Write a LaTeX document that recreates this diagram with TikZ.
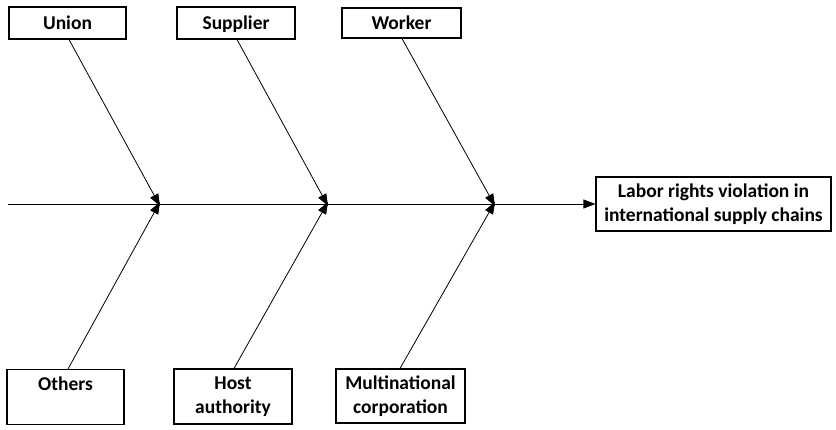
\documentclass[tikz,border=0pt]{standalone}
\usepackage{fontspec}
\setmainfont{Carlito}
\usetikzlibrary{arrows.meta}
\begin{document}
\begin{tikzpicture}[x=1pt,y=-1pt,
  labelfont/.style={font=\bfseries\fontsize{19.5}{24.5}\selectfont},
  cause/.style={draw,line width=1.1pt,inner sep=0pt,labelfont,align=center},
  oneline/.style={text height=13pt,text depth=0pt},
  bone/.style={line width=0.8pt,-{Triangle[length=12pt,width=9pt]}}]
\useasboundingbox (0,0) rectangle (836,430);
% top causes
\node[cause,oneline,minimum width=117pt,minimum height=32pt] (union) at (67.5,23) {Union};
\node[cause,oneline,minimum width=118pt,minimum height=32pt] (supplier) at (236,23) {Supplier};
\node[cause,oneline,minimum width=119pt,minimum height=30pt] (worker) at (401.5,23) {Worker};
% bottom causes; a single line sits at the top of its box
\node[cause,minimum width=117pt,minimum height=55pt,anchor=north] (others) at (65.5,369) {};
\node[anchor=base,labelfont] at (65.5,391) {Others};
\node[cause,minimum width=118pt,minimum height=55pt] (host) at (233,396.5) {Host\\authority};
\node[cause,minimum width=129pt,minimum height=54pt] (mnc) at (400.5,396) {Multinational\\corporation};
% effect
\node[cause,minimum width=235pt,minimum height=54pt] (effect) at (713.5,204) {Labor rights violation in\\international supply chains};
% spine and joints
\coordinate (tail) at (8,204);
\coordinate (j1) at (160,204);
\coordinate (j2) at (328,204);
\coordinate (j3) at (495,204);
\draw[bone] (tail) -- (effect.west);
\draw[bone] (union.south -| 69,0) -- ([yshift=-2]j1);
\draw[bone] (supplier.south -| 237,0) -- ([yshift=-2]j2);
\draw[bone] (worker.south -| 402,0) -- ([yshift=-2]j3);
\draw[bone] (others.north -| 68,0) -- ([yshift=2]j1);
\draw[bone] (host.north -| 234,0) -- ([yshift=2]j2);
\draw[bone] (mnc.north -| 400,0) -- ([yshift=2]j3);
\end{tikzpicture}
\end{document}
